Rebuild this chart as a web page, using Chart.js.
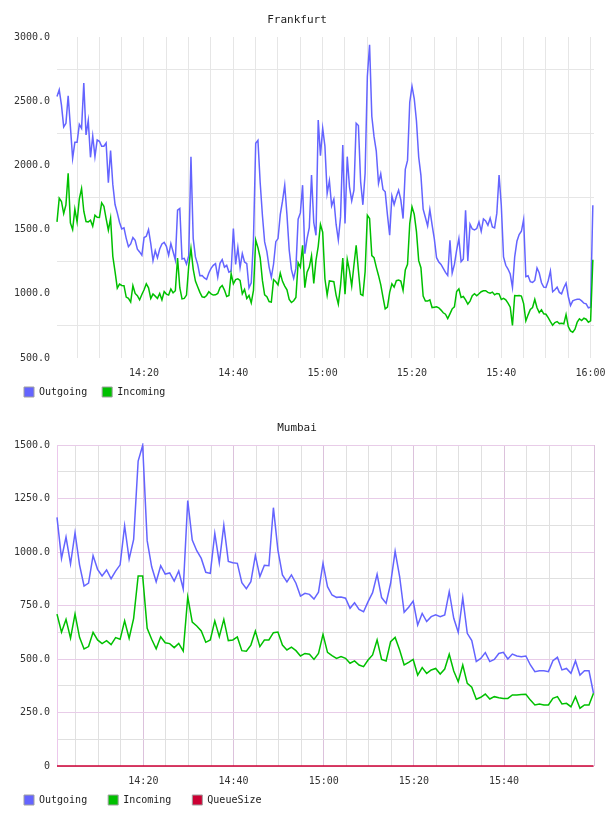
<!DOCTYPE html>
<html>
<head>
<meta charset="utf-8">
<title>Frankfurt / Mumbai</title>
<script src="https://cdn.jsdelivr.net/npm/chart.js@4.4.1/dist/chart.umd.min.js"></script>
<style>
    body { margin: 0; background: #fff; }
    canvas { position: absolute; left: 0; }
    #frankfurtChart { top: 0; }
    #mumbaiChart { top: 408px; }
</style>
</head>
<body>
<canvas id="frankfurtChart" width="608" height="408"></canvas>
<canvas id="mumbaiChart" width="608" height="408"></canvas>
<script>
// Vreme je u minutima posle 14:00

// Frankfurt - uzorak na svakih 30 s
const frankfurtStart = 0.52;
const frankfurtStep = 0.5;
const frankfurtOutgoing = [
    2536, 2589, 2469, 2300, 2328, 2542, 2302, 2055, 2180, 2180,
    2320, 2289, 2641, 2237, 2349, 2063, 2229, 2068, 2198, 2188,
    2149, 2149, 2175, 1865, 2115, 1852, 1695, 1630, 1557, 1505,
    1513, 1432, 1367, 1388, 1438, 1417, 1347, 1326, 1300, 1438,
    1448, 1500, 1391, 1258, 1336, 1281, 1349, 1388, 1401, 1370,
    1300, 1391, 1328, 1263, 1651, 1664, 1271, 1276, 1232, 1297,
    2068, 1432, 1287, 1229, 1141, 1143, 1123, 1112, 1162, 1198,
    1222, 1235, 1130, 1237, 1266, 1208, 1222, 1169, 1177, 1508,
    1229, 1360, 1203, 1313, 1248, 1235, 1047, 1086, 1422, 2172,
    2195, 1867, 1612, 1404, 1328, 1208, 1128, 1232, 1406, 1430,
    1617, 1721, 1846, 1615, 1341, 1188, 1120, 1198, 1581, 1630,
    1846, 1313, 1430, 1516, 1925, 1555, 1456, 2354, 2076, 2289,
    2150, 1781, 1880, 1685, 1737, 1542, 1419, 1599, 2159, 1547,
    2068, 1833, 1724, 1807, 2328, 2310, 1872, 1693, 1938, 2693,
    2940, 2383, 2224, 2112, 1860, 1935, 1813, 1794, 1615, 1456,
    1761, 1695, 1758, 1807, 1732, 1586, 1969, 2039, 2492, 2617,
    2521, 2346, 2065, 1922, 1659, 1594, 1529, 1656, 1537, 1427,
    1281, 1248, 1229, 1198, 1167, 1143, 1417, 1162, 1229, 1340,
    1430, 1250, 1271, 1651, 1255, 1542, 1505, 1497, 1508, 1560,
    1487, 1583, 1568, 1534, 1589, 1521, 1513, 1628, 1925, 1688,
    1287, 1222, 1193, 1154, 1050, 1287, 1409, 1461, 1487, 1578,
    1133, 1141, 1094, 1089, 1104, 1201, 1162, 1086, 1052, 1050,
    1102, 1177, 1016, 1032, 1052, 1011, 1000, 1047, 1083, 979,
    909, 945, 953, 958, 958, 945, 927, 922, 891, 896,
    1690
];
const frankfurtIncoming = [
    1560, 1745, 1719, 1625, 1693, 1938, 1552, 1500, 1659, 1560,
    1740, 1820, 1643, 1563, 1560, 1573, 1526, 1612, 1596, 1594,
    1708, 1682, 1586, 1495, 1589, 1292, 1172, 1044, 1076, 1065,
    1063, 974, 964, 935, 1063, 1003, 985, 953, 995, 1031,
    1078, 1047, 964, 998, 982, 964, 1003, 953, 1018, 998,
    990, 1037, 1008, 1024, 1279, 1047, 961, 964, 990, 1216,
    1354, 1193, 1099, 1055, 1011, 977, 972, 987, 1016, 1000,
    990, 992, 1003, 1047, 1065, 1029, 979, 987, 1156, 1078,
    1110, 1117, 1104, 1000, 1034, 964, 987, 930, 1026, 1419,
    1360, 1281, 1104, 992, 977, 940, 935, 1110, 1094, 1070,
    1162, 1097, 1060, 1031, 956, 932, 946, 972, 1242, 1208,
    1378, 1047, 1169, 1208, 1297, 1081, 1260, 1370, 1540, 1480,
    1117, 990, 1100, 1097, 1094, 990, 920, 1065, 1279, 997,
    1268, 1180, 1060, 1224, 1378, 1180, 997, 987, 1172, 1612,
    1586, 1297, 1281, 1208, 1143, 1071, 974, 883, 896, 1011,
    1078, 1052, 1102, 1107, 1099, 1026, 1185, 1229, 1547, 1677,
    1620, 1484, 1258, 1203, 982, 943, 943, 953, 893, 896,
    899, 891, 873, 852, 841, 807, 844, 883, 899, 1018,
    1039, 972, 979, 953, 920, 943, 985, 1000, 985, 1000,
    1016, 1024, 1024, 1011, 1005, 1013, 992, 1003, 1000, 956,
    964, 953, 927, 896, 753, 987, 985, 987, 982, 924,
    789, 836, 878, 893, 956, 891, 854, 875, 844, 841,
    815, 784, 756, 776, 784, 768, 771, 766, 838, 745,
    711, 701, 724, 779, 805, 792, 810, 802, 779, 790,
    1265
];

// Mumbai - uzorak svakog minuta
const mumbaiStart = 0.84;
const mumbaiStep = 1;
const mumbaiOutgoing = [
    1162, 970, 1070, 944, 1090, 940, 841, 855, 983, 919,
    888, 916, 875, 911, 940, 1123, 967, 1059, 1425, 1498,
    1053, 931, 861, 936, 897, 902, 864, 911, 827, 1240,
    1056, 1006, 970, 905, 900, 1087, 950, 1125, 956, 950,
    947, 857, 829, 861, 984, 885, 938, 936, 1207, 1009,
    893, 860, 893, 854, 794, 807, 802, 780, 812, 947,
    838, 799, 788, 790, 784, 737, 763, 732, 721, 768,
    810, 896, 787, 760, 854, 1003, 885, 718, 742, 771,
    659, 713, 675, 698, 706, 698, 706, 815, 690, 625,
    787, 620, 586, 488, 503, 530, 488, 498, 526, 531,
    500, 523, 514, 511, 514, 472, 441, 445, 445, 441,
    492, 508, 449, 456, 433, 491, 425, 445, 445, 340
];
const mumbaiIncoming = [
    710, 625, 685, 597, 710, 601, 547, 558, 625, 589,
    572, 586, 567, 600, 592, 678, 597, 690, 888, 888,
    643, 592, 548, 604, 576, 572, 553, 573, 537, 790,
    672, 654, 631, 578, 589, 678, 604, 685, 586, 589,
    603, 539, 536, 565, 631, 558, 589, 589, 623, 626,
    565, 542, 555, 539, 514, 526, 522, 498, 526, 615,
    531, 516, 503, 511, 503, 480, 491, 472, 464, 495,
    519, 589, 498, 491, 581, 601, 542, 472, 484, 498,
    425, 460, 433, 449, 456, 430, 453, 522, 444, 394,
    472, 386, 368, 312, 321, 336, 313, 324, 319, 316,
    316, 332, 332, 334, 335, 308, 285, 290, 285, 285,
    316, 324, 290, 293, 277, 324, 270, 285, 285, 340
];
const mumbaiQueueSize = [
    0, 0, 0, 0, 0, 0, 0, 0, 0, 0, 0, 0, 0, 0, 0, 0, 0, 0, 0, 0,
    0, 0, 0, 0, 0, 0, 0, 0, 0, 0, 0, 0, 0, 0, 0, 0, 0, 0, 0, 0,
    0, 0, 0, 0, 0, 0, 0, 0, 0, 0, 0, 0, 0, 0, 0, 0, 0, 0, 0, 0,
    0, 0, 0, 0, 0, 0, 0, 0, 0, 0, 0, 0, 0, 0, 0, 0, 0, 0, 0, 0,
    0, 0, 0, 0, 0, 0, 0, 0, 0, 0, 0, 0, 0, 0, 0, 0, 0, 0, 0, 0,
    0, 0, 0, 0, 0, 0, 0, 0, 0, 0, 0, 0, 0, 0, 0, 0, 0, 0, 0, 0
];

// Oznake na osama
const timeLabelMinutes = [20, 40, 60, 80, 100, 120];
const frankfurtYLabels = [500, 1000, 1500, 2000, 2500, 3000];
const mumbaiYLabels = [0, 250, 500, 750, 1000, 1250, 1500];

const OUT_COLOR = '#6464ff';
const IN_COLOR = '#00c000';
const QUEUE_COLOR = '#cc0033';
const FONT = 'DejaVu Sans Mono';

function clock(m) {
    const h = 14 + Math.floor(m / 60);
    const mm = Math.round(m % 60);
    return h + ':' + String(mm).padStart(2, '0');
}

function toPoints(start, step, values) {
    return values.map((v, i) => ({ x: start + i * step, y: v }));
}

function lineSet(label, color, order, start, step, values) {
    return {
        label: label,
        data: toPoints(start, step, values),
        borderColor: color,
        backgroundColor: color,
        borderWidth: 1.5,
        pointRadius: 0,
        tension: 0,
        fill: false,
        clip: 2,
        order: order
    };
}

function renderPanel(canvasId, title, datasets, o) {
    // legenda ide tacno ispod oznaka vremena
    const legendPlace = {
        id: 'legendPlace',
        afterLayout(chart) {
            chart.legend.left += 24 - o.legendPadding;
            chart.legend.top = 387 - o.legendPadding;
        }
    };
    const legendHeight = 20 + o.legendPadding;

    return new Chart(document.getElementById(canvasId), {
        type: 'line',
        data: { datasets: datasets },
        plugins: [legendPlace],
        options: {
            responsive: false,
            animation: false,
            // 37 naslov + 321 grafikon + 22 x osa + legenda
            layout: { padding: { left: 0, right: 14, top: 0, bottom: 408 - 37 - 321 - 22 - legendHeight } },
            plugins: {
                tooltip: { enabled: false },
                title: {
                    display: true,
                    text: title,
                    color: '#222',
                    font: { family: FONT, size: 11, weight: 'normal', lineHeight: '14px' },
                    padding: { top: 13, bottom: 10 }
                },
                legend: {
                    position: 'bottom',
                    align: 'start',
                    labels: {
                        boxWidth: 10,
                        boxHeight: 10,
                        padding: o.legendPadding,
                        color: '#222',
                        font: { family: FONT, size: 10 },
                        generateLabels: chart => Chart.defaults.plugins.legend.labels.generateLabels(chart)
                            .sort((a, b) => a.datasetIndex - b.datasetIndex)
                            .map(item => Object.assign(item, { strokeStyle: '#a0a0a0', lineWidth: 1 }))
                    }
                }
            },
            scales: {
                x: {
                    type: 'linear',
                    min: o.xMin,
                    max: o.xMax,
                    afterBuildTicks: scale => {
                        const ticks = [];
                        for (let m = 5; m <= scale.max; m += 5) {
                            if (m > scale.min) ticks.push({ value: m });
                        }
                        if (o.rightEdge) ticks.push({ value: scale.max });
                        scale.ticks = ticks;
                    },
                    afterFit: scale => {
                        scale.height = 22;
                        scale.paddingLeft = 0;
                        scale.paddingRight = 0;
                    },
                    ticks: {
                        autoSkip: false,
                        maxRotation: 0,
                        padding: 9,
                        color: '#333',
                        font: { family: FONT, size: 10 },
                        callback: v => timeLabelMinutes.includes(v) ? clock(v) : ''
                    },
                    grid: {
                        drawTicks: false,
                        color: ctx => o.xGrid(ctx.tick.value, o.xMax)
                    },
                    border: { display: false }
                },
                y: {
                    min: o.yMin,
                    max: o.yMax,
                    afterFit: scale => {
                        scale.width = 57;
                        scale.paddingTop = 0;
                        scale.paddingBottom = 0;
                    },
                    ticks: {
                        stepSize: o.yStep,
                        padding: 7,
                        color: '#333',
                        font: { family: FONT, size: 10 },
                        callback: v => o.yLabels.includes(v) ? (v === 0 ? '0' : v.toFixed(1)) : ''
                    },
                    grid: {
                        drawTicks: false,
                        color: ctx => o.yGrid(ctx.tick.value)
                    },
                    border: o.yBorder
                }
            }
        }
    });
}

renderPanel('frankfurtChart', 'Frankfurt', [
    lineSet('Outgoing', OUT_COLOR, 2, frankfurtStart, frankfurtStep, frankfurtOutgoing),
    lineSet('Incoming', IN_COLOR, 1, frankfurtStart, frankfurtStep, frankfurtIncoming)
], {
    xMin: 0.52, xMax: 120.78, rightEdge: false,
    yMin: 500, yMax: 3000, yStep: 250, yLabels: frankfurtYLabels,
    legendPadding: 15,
    xGrid: () => '#e6e6e6',
    yGrid: v => v % 500 === 0 ? 'rgba(0,0,0,0)' : '#e6e6e6',
    yBorder: { display: false }
});

renderPanel('mumbaiChart', 'Mumbai', [
    lineSet('Outgoing', OUT_COLOR, 3, mumbaiStart, mumbaiStep, mumbaiOutgoing),
    lineSet('Incoming', IN_COLOR, 2, mumbaiStart, mumbaiStep, mumbaiIncoming),
    lineSet('QueueSize', QUEUE_COLOR, 1, mumbaiStart, mumbaiStep, mumbaiQueueSize)
], {
    xMin: 0.84, xMax: 119.95, rightEdge: true,
    yMin: 0, yMax: 1500, yStep: 125, yLabels: mumbaiYLabels,
    legendPadding: 21,
    xGrid: (v, max) => (v % 20 === 0 || v === max) ? '#dcc2dc' : '#e0e0e0',
    yGrid: v => v % 250 === 0 ? '#e8cce8' : '#e0e0e0',
    yBorder: { display: true, color: '#ecc8ec', width: 1 }
});
</script>
</body>
</html>
